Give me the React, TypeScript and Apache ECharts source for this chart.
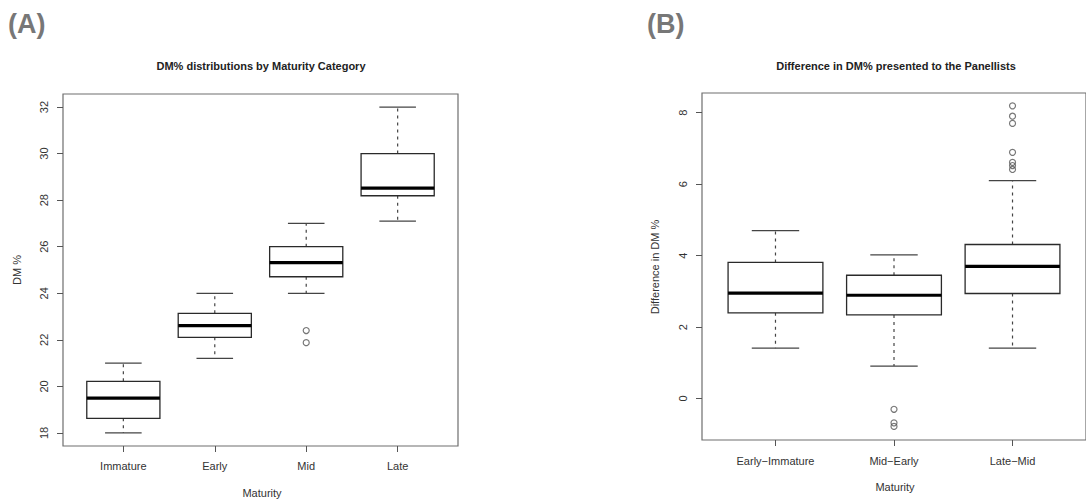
import React, { useEffect, useRef } from "react";
import * as echarts from "echarts";

// Panel A: DM% by maturity category
const catsA = ["Immature", "Early", "Mid", "Late"];
const lowA = [18.0, 21.2, 24.0, 27.1];
const q1A = [18.63, 22.11, 24.71, 28.19];
const medA = [19.5, 22.61, 25.32, 28.52];
const q3A = [20.22, 23.14, 26.0, 30.0];
const highA = [21.0, 24.0, 27.0, 32.0];
const outlierCatA = [3, 3];
const outlierValA = [22.4, 21.88];
const yTicksA = [18, 20, 22, 24, 26, 28, 30, 32];

// Panel B: difference in DM% presented to panellists
const catsB = ["Early\u2212Immature", "Mid\u2212Early", "Late\u2212Mid"];
const lowB = [1.41, 0.91, 1.41];
const q1B = [2.4, 2.34, 2.94];
const medB = [2.95, 2.89, 3.7];
const q3B = [3.81, 3.45, 4.31];
const highB = [4.7, 4.02, 6.1];
const outlierCatB = [2, 2, 2, 3, 3, 3, 3, 3, 3, 3];
const outlierValB = [-0.3, -0.68, -0.78, 8.19, 7.9, 7.7, 6.89, 6.61, 6.52, 6.41];
const yTicksB = [0, 2, 4, 6, 8];

const FONT = "'Liberation Sans', Arial, sans-serif";

function boxData(low: number[], q1: number[], med: number[], q3: number[], high: number[]) {
  return low.map((_, i) => [i + 1, low[i], q1[i], med[i], q3[i], high[i]]);
}

function renderBox(params: any, api: any) {
  const x = api.value(0);
  const lo = api.coord([x, api.value(1)]);
  const b1 = api.coord([x, api.value(2)]);
  const md = api.coord([x, api.value(3)]);
  const b3 = api.coord([x, api.value(4)]);
  const hi = api.coord([x, api.value(5)]);
  const boxW = api.size([0.8, 0])[0];
  const capW = api.size([0.4, 0])[0];
  const cx = lo[0];
  const lineCol = "#2a2a2a";
  return {
    type: "group",
    children: [
      {
        type: "line",
        shape: { x1: cx, y1: b3[1], x2: cx, y2: hi[1] },
        style: { stroke: "#444", lineWidth: 1.2, lineDash: [3, 4] },
      },
      {
        type: "line",
        shape: { x1: cx, y1: b1[1], x2: cx, y2: lo[1] },
        style: { stroke: "#444", lineWidth: 1.2, lineDash: [3, 4] },
      },
      {
        type: "line",
        shape: { x1: cx - capW / 2, y1: hi[1], x2: cx + capW / 2, y2: hi[1] },
        style: { stroke: "#444", lineWidth: 1.2 },
      },
      {
        type: "line",
        shape: { x1: cx - capW / 2, y1: lo[1], x2: cx + capW / 2, y2: lo[1] },
        style: { stroke: "#444", lineWidth: 1.2 },
      },
      {
        type: "rect",
        shape: { x: cx - boxW / 2, y: b3[1], width: boxW, height: b1[1] - b3[1] },
        style: { fill: "#fff", stroke: lineCol, lineWidth: 1.3 },
      },
      {
        type: "line",
        shape: { x1: cx - boxW / 2, y1: md[1], x2: cx + boxW / 2, y2: md[1] },
        style: { stroke: "#000", lineWidth: 3.2 },
      },
    ],
  };
}

function xAxisCfg(gridIndex: number, min: number, max: number, cats: string[], margin: number) {
  const vals = cats.map((_, i) => i + 1);
  return {
    type: "value",
    gridIndex,
    min,
    max,
    position: "bottom",
    axisLine: { show: false, onZero: false },
    splitLine: { show: false },
    axisTick: { show: true, customValues: vals, length: 6, lineStyle: { color: "#555" } },
    axisLabel: {
      show: true,
      customValues: vals,
      margin,
      fontSize: 11,
      color: "#333",
      fontFamily: FONT,
      formatter: (v: number) => cats[Math.round(v) - 1] ?? "",
    },
  };
}

function yAxisCfg(gridIndex: number, min: number, max: number, ticks: number[]) {
  return {
    type: "value",
    gridIndex,
    min,
    max,
    position: "left",
    axisLine: { show: false, onZero: false },
    splitLine: { show: false },
    axisTick: { show: true, customValues: ticks, length: 6, lineStyle: { color: "#555" } },
    axisLabel: {
      show: true,
      customValues: ticks,
      rotate: 90,
      margin: 14,
      fontSize: 11,
      color: "#333",
      fontFamily: FONT,
    },
  };
}

export default function App() {
  const ref = useRef<HTMLDivElement>(null);
  useEffect(() => {
    document.body.style.margin = "0";
    if (!ref.current) return;
    const chart = echarts.init(ref.current, null, { renderer: "svg" });
    const option: any = {
      animation: false,
      backgroundColor: "#fff",
      grid: [
        { left: 63, top: 94, width: 395, height: 352, show: true, borderColor: "#6e6e6e", borderWidth: 1.2, backgroundColor: "transparent" },
        { left: 702, top: 93, width: 387, height: 347, show: true, borderColor: "#6e6e6e", borderWidth: 1.2, backgroundColor: "transparent" },
      ],
      xAxis: [xAxisCfg(0, 0.34, 4.66, catsA, 14), xAxisCfg(1, 0.38, 3.62, catsB, 15)],
      yAxis: [yAxisCfg(0, 17.44, 32.56, yTicksA), yAxisCfg(1, -1.16, 8.55, yTicksB)],
      series: [
        {
          type: "custom",
          xAxisIndex: 0,
          yAxisIndex: 0,
          renderItem: renderBox,
          data: boxData(lowA, q1A, medA, q3A, highA),
          silent: true,
        },
        {
          type: "custom",
          xAxisIndex: 1,
          yAxisIndex: 1,
          renderItem: renderBox,
          data: boxData(lowB, q1B, medB, q3B, highB),
          silent: true,
        },
        {
          type: "scatter",
          xAxisIndex: 0,
          yAxisIndex: 0,
          symbol: "circle",
          symbolSize: 6,
          itemStyle: { color: "transparent", borderColor: "#555", borderWidth: 1.2 },
          data: outlierCatA.map((c, i) => [c, outlierValA[i]]),
          silent: true,
        },
        {
          type: "scatter",
          xAxisIndex: 1,
          yAxisIndex: 1,
          symbol: "circle",
          symbolSize: 6,
          itemStyle: { color: "transparent", borderColor: "#555", borderWidth: 1.2 },
          data: outlierCatB.map((c, i) => [c, outlierValB[i]]),
          silent: true,
        },
      ],
      graphic: [
        { type: "text", x: 8, y: 24, style: { text: "(A)", fontSize: 27, fontWeight: "bold", fill: "#777", fontFamily: FONT, align: "left", verticalAlign: "middle" } },
        { type: "text", x: 647, y: 24, style: { text: "(B)", fontSize: 27, fontWeight: "bold", fill: "#777", fontFamily: FONT, align: "left", verticalAlign: "middle" } },
        { type: "text", x: 261, y: 66, style: { text: "DM% distributions by Maturity Category", fontSize: 11, fontWeight: "bold", fill: "#222", fontFamily: FONT, align: "center", verticalAlign: "middle" } },
        { type: "text", x: 896, y: 66, style: { text: "Difference in DM% presented to the Panellists", fontSize: 11, fontWeight: "bold", fill: "#222", fontFamily: FONT, align: "center", verticalAlign: "middle" } },
        { type: "text", x: 262, y: 493, style: { text: "Maturity", fontSize: 11, fill: "#333", fontFamily: FONT, align: "center", verticalAlign: "middle" } },
        { type: "text", x: 895, y: 487, style: { text: "Maturity", fontSize: 11, fill: "#333", fontFamily: FONT, align: "center", verticalAlign: "middle" } },
        { type: "text", x: 17, y: 270, rotation: Math.PI / 2, style: { text: "DM %", fontSize: 11, fill: "#333", fontFamily: FONT, align: "center", verticalAlign: "middle" } },
        { type: "text", x: 655, y: 267, rotation: Math.PI / 2, style: { text: "Difference in DM %", fontSize: 11, fill: "#333", fontFamily: FONT, align: "center", verticalAlign: "middle" } },
      ],
    };
    chart.setOption(option);
    return () => chart.dispose();
  }, []);
  return <div ref={ref} style={{ width: 1086, height: 500 }} />;
}
